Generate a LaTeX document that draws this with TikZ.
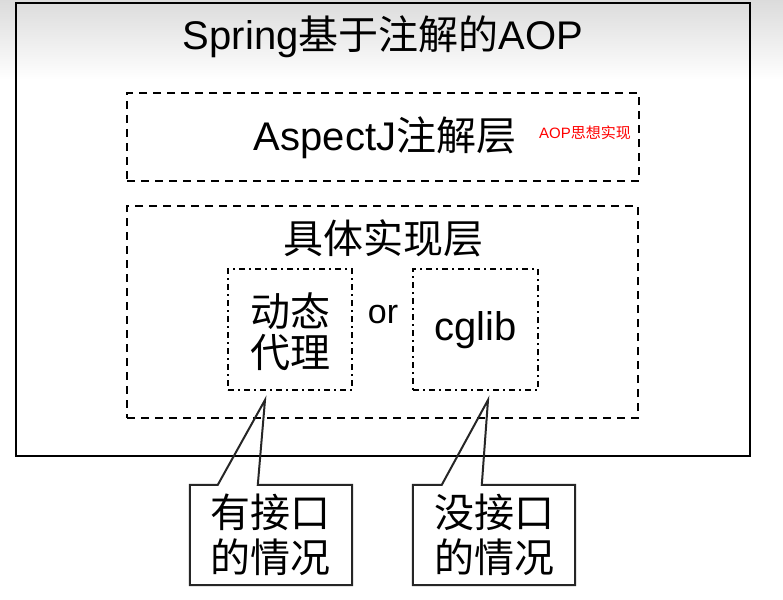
\documentclass[tikz,border=0pt]{standalone}
\usepackage{fontspec}
\setmainfont{Liberation Sans}
\newfontfamily\cjk{Noto Sans CJK SC}
\usetikzlibrary{calc}

\begin{document}
\begin{tikzpicture}[
    x=1pt,
    y=-1pt,
    frame/.style={draw, line width=1.8pt, inner sep=0pt},
    layer/.style={draw, line width=2pt, dash pattern=on 8pt off 6pt, inner sep=0pt},
    impl/.style={draw, line width=2pt, dash pattern=on 6pt off 4pt on 2pt off 4pt, inner sep=0pt},
    big/.style={font=\fontsize{40}{41}\selectfont, align=center, inner sep=0pt},
    callout/.style={line width=2pt, draw=black!85, line join=miter}
]

    % Background and bounding box
    \useasboundingbox (0,0) rectangle (783,599);
    \fill[white] (0,0) rectangle (783,599);
    \shade[top color=black!14, bottom color=white] (0,0) rectangle (783,80);

    % Draw the outer frame
    \node[frame, minimum width=734pt, minimum height=453pt] (spring) at (383,229.5) {};
    \node[big] (springtitle) at (383,37) {Spring{\cjk 基于注解的}AOP};

    % AspectJ layer
    \node[layer, minimum width=512pt, minimum height=88pt] (aspectj) at (383,137) {};
    \node[big] (aspectjtitle) at (385,138) {AspectJ{\cjk 注解层}};
    \node[text=red, font=\fontsize{15}{16}\selectfont, inner sep=0pt] (aopnote) at (585,133) {AOP{\cjk 思想实现}};

    % Implementation layer
    \node[layer, minimum width=511pt, minimum height=212pt] (implayer) at (382.5,312) {};
    \node[big] (impltitle) at (383,238) {\cjk 具体实现层};

    \node[impl, minimum width=124pt, minimum height=121pt] (jdkproxy) at (290,329.5) {};
    \node[big] (jdktext) at (290,332) {\cjk 动态\\\cjk 代理};
    \node[font=\fontsize{34}{36}\selectfont, inner sep=0pt] (ortext) at (383,315) {or};
    \node[impl, minimum width=125pt, minimum height=121pt] (cglib) at (475.5,329.5) {};
    \node[big] (cglibtext) at (475.5,330) {cglib};

    % Callouts
    \node[minimum width=162pt, minimum height=100pt, inner sep=0pt] (hasif) at (271,535) {};
    \node[big, font=\fontsize{40}{45}\selectfont] (hasiftext) at (270,535) {\cjk 有接口\\\cjk 的情况};
    \node[minimum width=162pt, minimum height=100pt, inner sep=0pt] (noif) at (494,535) {};
    \node[big, font=\fontsize{40}{45}\selectfont] (noiftext) at (494,535) {\cjk 没接口\\\cjk 的情况};

    \coordinate (hastip) at (265,400);
    \coordinate (notip) at (488,400);

    \draw[callout] ($(hasif.north west)+(68,0)$) -- (hastip) -- ($(hasif.north west)+(28,0)$)
        -- (hasif.north west) -- (hasif.south west) -- (hasif.south east) -- (hasif.north east) -- cycle;
    \draw[callout] ($(noif.north west)+(69,0)$) -- (notip) -- ($(noif.north west)+(29,0)$)
        -- (noif.north west) -- (noif.south west) -- (noif.south east) -- (noif.north east) -- cycle;

\end{tikzpicture}
\end{document}
